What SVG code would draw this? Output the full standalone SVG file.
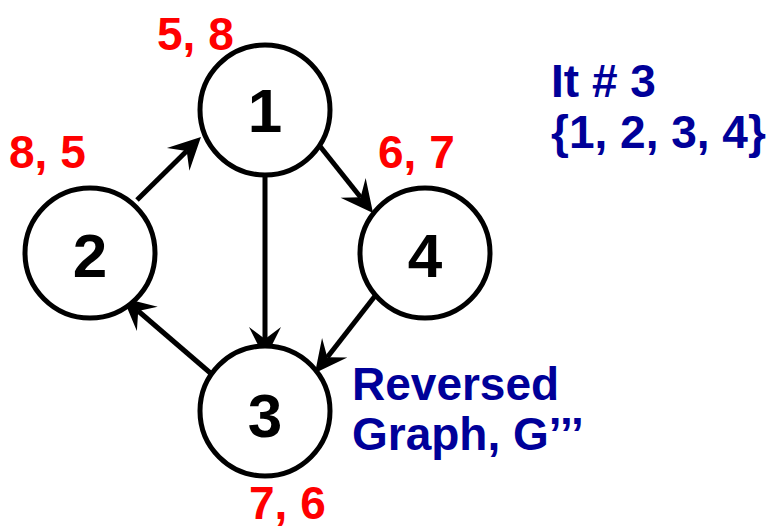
<svg xmlns="http://www.w3.org/2000/svg" width="776" height="528" viewBox="0 0 776 528">
<style>
.node circle{fill:#fff;stroke:#000;stroke-width:5}
.node text{font-family:"Liberation Sans",Arial,sans-serif;font-weight:bold;font-size:62px;text-anchor:middle;fill:#000}
.lbl{font-family:"Liberation Sans",Arial,sans-serif;font-weight:bold;font-size:46px;fill:#ff0000}
.note{font-family:"Liberation Sans",Arial,sans-serif;font-weight:bold;font-size:46px;fill:#000099}
.edge{stroke:#000;stroke-width:5;fill:none;marker-end:url(#ah)}
</style>
<defs>
<marker id="ah" markerUnits="userSpaceOnUse" markerWidth="44" markerHeight="44" viewBox="-16 -22 44 44" refX="0" refY="0" orient="auto">
<path d="M20,0 L-12,-16 L0,0 L-12,16 Z" fill="#000"/>
</marker>
</defs>
<rect width="776" height="528" fill="#fff"/>
<g id="connectors">
<line class="edge" x1="137" y1="200" x2="186.7" y2="151"/>
<line class="edge" x1="315" y1="140" x2="360.6" y2="197.3"/>
<line class="edge" x1="265" y1="175" x2="265" y2="339"/>
<line class="edge" x1="375" y1="296" x2="327.3" y2="357.2"/>
<line class="edge" x1="215" y1="377" x2="138.2" y2="311"/>
</g>
<g id="node1" class="node"><circle cx="265" cy="110" r="65"/><text x="265" y="132">1</text></g>
<g id="node2" class="node"><circle cx="90" cy="253" r="65"/><text x="90" y="277">2</text></g>
<g id="node4" class="node"><circle cx="425" cy="253" r="65"/><text x="425" y="277">4</text></g>
<g id="node3" class="node"><circle cx="265" cy="411" r="65"/><text x="265" y="437">3</text></g>
<g id="labels">
<text class="lbl" x="157" y="50">5, 8</text>
<text class="lbl" x="9" y="168">8, 5</text>
<text class="lbl" x="378" y="168">6, 7</text>
<text class="lbl" x="249" y="519">7, 6</text>
<text class="note" x="551" y="97">It # 3</text>
<text class="note" x="551" y="148">{1, 2, 3, 4}</text>
<text class="note" x="352" y="400">Reversed</text>
<text class="note" x="352" y="450">Graph, G’’’</text>
</g>
</svg>
